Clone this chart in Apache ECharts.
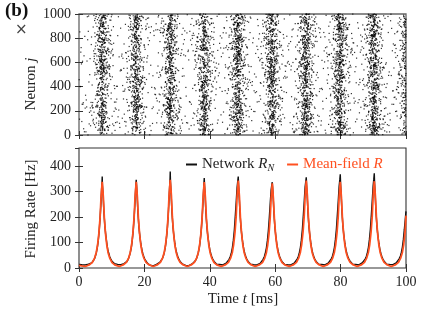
<!DOCTYPE html>
<html><head><meta charset="utf-8">
<script src="https://cdn.jsdelivr.net/npm/echarts@6/dist/echarts.min.js"></script>
<style>html,body{margin:0;padding:0;background:#fff}#c{width:442px;height:309px}</style>
</head><body><div id="c"></div>
<script>
// ---- tick labels ----
const timeTicks = [0, 20, 40, 60, 80, 100];
const neuronTicks = [0, 200, 400, 600, 800, 1000];
const rateTicks = [0, 100, 200, 300, 400];

// ---- Mean-field rate R [Hz] : [t (ms), value] ----
const meanField = [
[0,10],[0.8,8],[1.9,6],[3.1,12],[4.1,22],[4.8,40],[5.3,62],[5.7,92],[6.1,138],[6.45,198],[6.75,278],[7.1,338],[7.45,276],[7.75,196],[8.1,136],[8.5,90],[8.9,60],[9.4,39],[10.1,21],[11.1,11],[12.3,6],
[13.5,12],[14.5,22],[15.2,40],[15.7,62],[16.1,92],[16.5,138],[16.85,198],[17.15,278],[17.5,338],[17.85,278],[18.15,198],[18.5,137],[18.9,91],[19.3,61],[19.8,40],[20.5,22],[21.5,12],[22.7,6],
[23.9,12],[24.9,22],[25.6,41],[26.1,63],[26.5,94],[26.9,140],[27.25,202],[27.55,285],[27.9,345],[28.25,284],[28.55,200],[28.9,139],[29.3,92],[29.7,62],[30.2,40],[30.9,22],[31.9,12],[33.1,6],
[34.3,12],[35.3,22],[36.0,40],[36.5,61],[36.9,91],[37.3,137],[37.65,197],[37.95,277],[38.3,337],[38.65,276],[38.95,196],[39.3,136],[39.7,90],[40.1,60],[40.6,39],[41.3,21],[42.3,11],[43.5,6],
[44.7,12],[45.7,22],[46.4,40],[46.9,62],[47.3,93],[47.7,139],[48.05,200],[48.35,282],[48.7,342],[49.05,281],[49.35,199],[49.7,138],[50.1,91],[50.5,61],[51.0,40],[51.7,22],[52.7,12],[53.9,6],
[55.1,12],[56.1,21],[56.8,39],[57.3,60],[57.7,90],[58.1,135],[58.45,194],[58.75,272],[59.1,332],[59.45,271],[59.75,193],[60.1,134],[60.5,89],[60.9,60],[61.4,39],[62.1,21],[63.1,11],[64.3,6],
[65.5,12],[66.5,22],[67.2,40],[67.7,62],[68.1,93],[68.5,139],[68.85,200],[69.15,282],[69.5,342],[69.85,281],[70.15,199],[70.5,138],[70.9,91],[71.3,61],[71.8,40],[72.5,22],[73.5,12],[74.7,6],
[75.9,12],[76.9,22],[77.6,40],[78.1,62],[78.5,92],[78.9,138],[79.25,198],[79.55,278],[79.9,338],[80.25,277],[80.55,197],[80.9,137],[81.3,91],[81.7,61],[82.2,40],[82.9,22],[83.9,12],[85.1,6],
[86.3,12],[87.3,22],[88.0,40],[88.5,62],[88.9,92],[89.3,139],[89.65,199],[89.95,280],[90.3,340],[90.65,279],[90.95,198],[91.3,137],[91.7,91],[92.1,61],[92.6,40],[93.3,22],[94.3,12],[95.5,6],
[96.7,12],[97.7,22],[98.4,40],[98.9,62],[99.3,92],[99.7,140],[100,205]
];

// ---- Network rate R_N [Hz] : [t (ms), value] ----
const network = [
[0,14],[0.4,11],[0.9,13],[1.4,9],[1.9,12],[2.4,10],[2.9,15],[3.4,13],[3.9,20],[4.3,24],[4.7,35],[5.0,46],[5.3,60],[5.6,80],[5.9,108],[6.2,150],[6.5,205],[6.75,262],[6.95,320],[7.05,340],[7.1,358],[7.18,322],[7.35,292],[7.6,222],[7.9,165],[8.2,128],[8.5,98],[8.8,72],[9.1,58],[9.4,44],[9.7,36],[10.1,26],[10.5,20],[10.9,17],[11.3,12],[11.8,14],[12.3,9],[12.8,13],
[13.3,11],[13.8,17],[14.3,19],[14.7,26],[15.1,36],[15.4,47],[15.7,62],[16.0,80],[16.3,110],[16.6,150],[16.9,205],[17.15,265],[17.35,318],[17.5,345],[17.6,325],[17.75,290],[18.0,222],[18.3,163],[18.6,126],[18.9,95],[19.2,74],[19.5,57],[19.8,45],[20.1,35],[20.5,27],[20.9,19],[21.3,16],[21.7,11],[22.2,13],[22.7,8],[23.2,12],
[23.7,14],[24.2,18],[24.7,22],[25.1,27],[25.5,37],[25.8,47],[26.1,62],[26.4,82],[26.7,112],[27.0,152],[27.3,210],[27.55,270],[27.75,330],[27.85,352],[27.9,378],[27.98,338],[28.15,295],[28.4,225],[28.7,166],[29.0,128],[29.3,97],[29.6,73],[29.9,58],[30.2,45],[30.5,36],[30.9,26],[31.3,20],[31.7,15],[32.1,12],[32.6,10],[33.1,13],[33.6,9],
[34.1,13],[34.6,16],[35.1,20],[35.5,27],[35.9,36],[36.2,47],[36.5,62],[36.8,80],[37.1,110],[37.4,150],[37.7,205],[37.95,265],[38.15,318],[38.3,352],[38.4,322],[38.55,290],[38.8,220],[39.1,162],[39.4,126],[39.7,96],[40.0,72],[40.3,57],[40.6,44],[40.9,35],[41.3,26],[41.7,20],[42.1,15],[42.5,12],[43.0,14],[43.5,9],
[44.0,12],[44.5,15],[45.0,19],[45.5,25],[45.9,34],[46.3,46],[46.6,60],[46.9,79],[47.2,108],[47.5,148],[47.8,204],[48.1,264],[48.35,316],[48.55,340],[48.7,358],[48.8,326],[48.95,290],[49.2,222],[49.5,164],[49.8,127],[50.1,96],[50.4,73],[50.7,57],[51.0,45],[51.3,35],[51.7,26],[52.1,19],[52.5,15],[52.9,11],[53.4,13],[53.9,8],
[54.4,12],[54.9,14],[55.4,18],[55.9,25],[56.3,34],[56.7,45],[57.0,60],[57.3,78],[57.6,106],[57.9,145],[58.2,198],[58.5,258],[58.75,305],[58.95,325],[59.1,336],[59.2,318],[59.35,285],[59.6,218],[59.9,160],[60.2,124],[60.5,94],[60.8,72],[61.1,56],[61.4,43],[61.7,34],[62.1,25],[62.5,19],[62.9,14],[63.3,11],[63.8,13],[64.3,8],
[64.8,12],[65.3,15],[65.8,19],[66.3,26],[66.7,35],[67.1,46],[67.4,61],[67.7,80],[68.0,109],[68.3,150],[68.6,205],[68.9,265],[69.15,318],[69.35,338],[69.5,355],[69.6,324],[69.75,290],[70.0,222],[70.3,164],[70.6,127],[70.9,96],[71.2,73],[71.5,57],[71.8,45],[72.1,35],[72.5,26],[72.9,20],[73.3,15],[73.7,11],[74.2,14],[74.7,9],
[75.2,12],[75.7,16],[76.2,19],[76.7,26],[77.1,35],[77.5,46],[77.8,61],[78.1,80],[78.4,110],[78.7,150],[79.0,206],[79.3,266],[79.55,320],[79.75,345],[79.9,367],[80.0,330],[80.15,292],[80.4,224],[80.7,165],[81.0,128],[81.3,97],[81.6,74],[81.9,58],[82.2,45],[82.5,36],[82.9,27],[83.3,20],[83.7,15],[84.1,12],[84.6,14],[85.1,9],
[85.6,12],[86.1,15],[86.6,20],[87.1,26],[87.5,35],[87.9,46],[88.2,61],[88.5,80],[88.8,110],[89.1,151],[89.4,207],[89.7,268],[89.95,322],[90.15,348],[90.3,371],[90.4,332],[90.55,294],[90.8,224],[91.1,165],[91.4,128],[91.7,97],[92.0,74],[92.3,58],[92.6,45],[92.9,36],[93.3,27],[93.7,20],[94.1,15],[94.5,12],[95.0,14],[95.5,9],
[96.0,13],[96.5,16],[97.0,20],[97.5,27],[97.9,36],[98.3,47],[98.6,62],[98.9,82],[99.2,112],[99.5,152],[99.8,195],[100,222]
];

// ---- Raster: neuron count and number of drawn spikes (spike times follow the network rate R_N) ----
const neuronCount = 1000;
const spikeTotal = 6300;

// Spike raster: deterministic placement following the network-rate density (inverse CDF),
// neuron index from a fixed integer hash (no Math.random).
function hash01(n) {
  n = Math.imul(n ^ (n >>> 16), 0x45d9f3b);
  n = Math.imul(n ^ (n >>> 16), 0x45d9f3b);
  n = n ^ (n >>> 16);
  return (n >>> 0) / 4294967296;
}
function buildRaster() {
  const cum = [0];
  for (let i = 1; i < network.length; i++) {
    const dt = network[i][0] - network[i-1][0];
    cum.push(cum[i-1] + 0.5 * dt * (network[i][1] + network[i-1][1]));
  }
  const total = cum[cum.length - 1];
  const pts = [];
  for (let n = 1; n <= spikeTotal; n++) {
    const u = (n - 0.5) / spikeTotal * total;
    let lo = 0, hi = cum.length - 1;
    while (hi - lo > 1) { const m = (lo + hi) >> 1; if (cum[m] <= u) lo = m; else hi = m; }
    const f = (u - cum[lo]) / Math.max(1e-9, cum[hi] - cum[lo]);
    const t = network[lo][0] + f * (network[hi][0] - network[lo][0]);
    pts.push([t, hash01(n * 2654435761 + 12345) * neuronCount]);
  }
  return pts;
}
const raster = buildRaster();

const serif = 'Liberation Serif';
const txt = '#222';
const orange = '#ff5020';

const chart = echarts.init(document.getElementById('c'), null, {renderer: 'canvas'});
const baseX = (gi, pos, labels) => ({
  type: 'value', gridIndex: gi, position: pos, min: 0, max: 100, interval: 20,
  axisLine: {show: false}, splitLine: {show: false},
  axisTick: {show: true, inside: true, length: 4, lineStyle: {color: '#333', width: 1}},
  axisLabel: {show: labels, margin: 7, fontFamily: serif, fontSize: 14, color: txt,
    formatter: v => timeTicks.includes(v) ? String(v) : ''}
});
const baseY = (gi, pos, labels, max, interval, ticks) => ({
  type: 'value', gridIndex: gi, position: pos, min: 0, max: max, interval: interval,
  axisLine: {show: false}, splitLine: {show: false},
  axisTick: {show: true, inside: true, length: 4, lineStyle: {color: '#333', width: 1}},
  axisLabel: {show: labels, margin: 8, fontFamily: serif, fontSize: 14, color: txt, showMaxLabel: max === 1000,
    formatter: v => ticks.includes(v) ? String(v) : ''}
});

chart.setOption({
  animation: false,
  grid: [
    {left: 79, top: 14, width: 327, height: 121, show: true, borderColor: '#666', borderWidth: 1.3, backgroundColor: 'transparent'},
    {left: 79, top: 148, width: 327, height: 120, show: true, borderColor: '#333', borderWidth: 1.1, backgroundColor: 'transparent'}
  ],
  xAxis: [baseX(0, 'bottom', false), baseX(0, 'top', false), baseX(1, 'bottom', true), baseX(1, 'top', false)],
  yAxis: [baseY(0, 'left', true, 1000, 200, neuronTicks), baseY(0, 'right', false, 1000, 200, neuronTicks),
          baseY(1, 'left', true, 470, 100, rateTicks), baseY(1, 'right', false, 470, 100, rateTicks)],
  legend: {
    left: 181, top: 152, itemGap: 13, itemWidth: 11, itemHeight: 2, icon: 'rect',
    data: [{name: 'Network', textStyle: {color: txt}}, {name: 'Mean-field', textStyle: {color: orange}}],
    textStyle: {fontFamily: serif, fontSize: 15,
      rich: {
        n: {fontFamily: serif, fontSize: 15},
        i: {fontFamily: serif, fontSize: 15, fontStyle: 'italic'},
        s: {fontFamily: serif, fontSize: 10, fontStyle: 'italic', padding: [7, 0, 0, 0]}
      }},
    formatter: name => name === 'Network' ? '{n|Network }{i|R}{s|N}' : '{n|Mean-field }{i|R}'
  },
  series: [
    {name: 'raster', type: 'scatter', xAxisIndex: 0, yAxisIndex: 0, data: raster, symbol: 'rect',
     symbolSize: 1.2, itemStyle: {color: '#000', opacity: 0.8}, large: true, largeThreshold: 1000, silent: true},
    {name: 'Network', type: 'line', xAxisIndex: 2, yAxisIndex: 2, data: network, showSymbol: false, symbol: 'none',
     lineStyle: {color: '#111', width: 1.4}, itemStyle: {color: '#111'}, z: 2},
    {name: 'Mean-field', type: 'line', xAxisIndex: 2, yAxisIndex: 2, data: meanField, showSymbol: false, symbol: 'none',
     lineStyle: {color: orange, width: 1.8}, itemStyle: {color: orange}, z: 3}
  ],
  graphic: [
    {type: 'text', left: 5, top: 2, style: {text: '(b)', font: 'bold 19px "Liberation Serif"', fill: '#111'}},
    {type: 'text', left: 15, top: 23, style: {text: '×', font: '15px "DejaVu Sans"', fill: '#444'}},
    {type: 'text', x: 31, y: 84, rotation: Math.PI / 2,
     style: {text: '{n|Neuron }{i|j}', align: 'center', verticalAlign: 'middle', fill: txt,
       rich: {n: {font: '15px "Liberation Serif"', fill: txt}, i: {font: 'italic 15px "Liberation Serif"', fill: txt}}}},
    {type: 'text', x: 31, y: 209, rotation: Math.PI / 2,
     style: {text: 'Firing Rate [Hz]', font: '15px "Liberation Serif"', align: 'center', verticalAlign: 'middle', fill: txt}},
    {type: 'text', x: 243, y: 299,
     style: {text: '{n|Time }{i|t}{n| [ms]}', align: 'center', verticalAlign: 'middle', fill: txt,
       rich: {n: {font: '15px "Liberation Serif"', fill: txt}, i: {font: 'italic 15px "Liberation Serif"', fill: txt}}}}
  ]
});
</script></body></html>
